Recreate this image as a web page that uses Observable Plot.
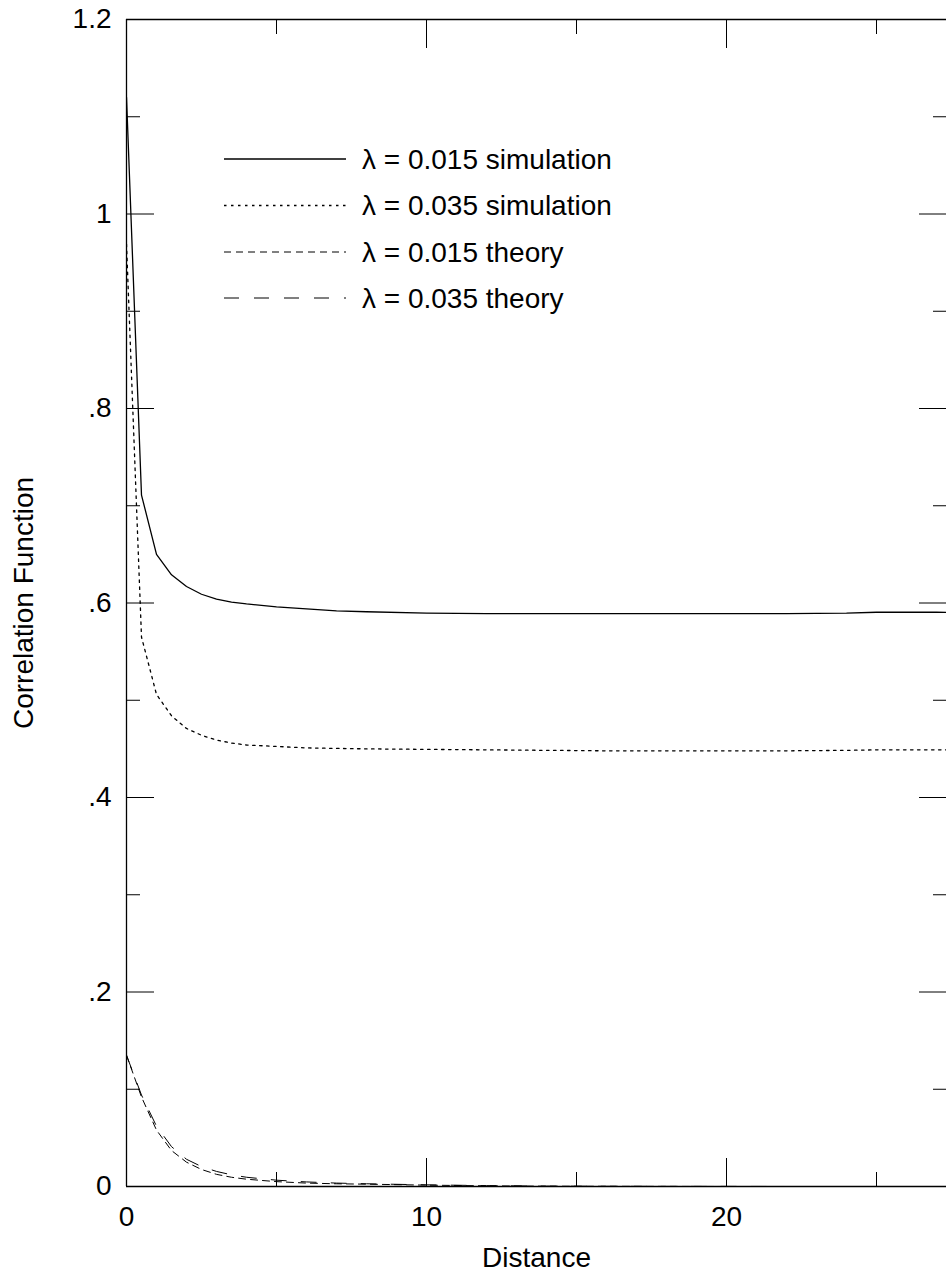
<!DOCTYPE html>
<html><head><meta charset="utf-8">
<script src="https://cdn.jsdelivr.net/npm/d3@7"></script>
<script src="https://cdn.jsdelivr.net/npm/@observablehq/plot@0.6"></script>
<style>html,body{margin:0;padding:0;background:#fff}</style>
</head><body><div id="chart"></div>
<script>
// ---- data ----
const distance = [0, 0.5, 1, 1.5, 2, 2.5, 3, 3.5, 4, 5, 6, 7, 8, 10, 12, 14, 16, 18, 20, 22, 24, 25, 26, 27, 28];
const sim015 = [1.12, 0.711, 0.650, 0.629, 0.617, 0.609, 0.604, 0.601, 0.599, 0.596, 0.594, 0.592, 0.591, 0.5895, 0.589, 0.589, 0.589, 0.589, 0.589, 0.589, 0.5895, 0.5905, 0.5905, 0.5905, 0.5903];
const sim035 = [0.969, 0.565, 0.506, 0.484, 0.471, 0.464, 0.459, 0.456, 0.454, 0.4525, 0.451, 0.4505, 0.450, 0.4495, 0.449, 0.4485, 0.448, 0.448, 0.448, 0.448, 0.4485, 0.449, 0.449, 0.449, 0.449];
const th015 = [0.135, 0.092, 0.058, 0.037, 0.025, 0.0175, 0.0125, 0.0095, 0.0075, 0.005, 0.0035, 0.0028, 0.0024, 0.0014, 0.0007, 0.0003, 0.0002, 0.0001, 0, 0, 0, 0, 0, 0, 0];
const th035 = [0.135, 0.094, 0.062, 0.041, 0.028, 0.0205, 0.0155, 0.012, 0.0095, 0.0065, 0.0047, 0.0035, 0.0028, 0.0017, 0.0009, 0.0004, 0.0002, 0.0001, 0.0001, 0, 0, 0, 0, 0, 0];

const seriesNames = ["λ = 0.015 simulation", "λ = 0.035 simulation", "λ = 0.015 theory", "λ = 0.035 theory"];
const seriesValues = [sim015, sim035, th015, th035];
const seriesDash = [null, "2.5,4.5", "7,5", "15,15"];
const seriesWidth = [1.3, 1.3, 1, 1];

const yMajor = [0, 0.2, 0.4, 0.6, 0.8, 1, 1.2];
const yTickLabels = ["0", ".2", ".4", ".6", ".8", "1", "1.2"];
const yMinor = [0.1, 0.3, 0.5, 0.7, 0.9, 1.1];
const xMajor = [0, 10, 20];
const xTickLabels = ["0", "10", "20"];
const xMinor = [5, 15, 25];
const xTopMajor = [10, 20];
const xLabel = "Distance";
const yLabel = "Correlation Function";

// ---- build table ----
const rows = [];
seriesNames.forEach((name, s) => {
  distance.forEach((d, i) => rows.push({series: name, s, x: d, y: seriesValues[s][i]}));
});

const blank = () => "";
const FONT = "'Liberation Sans', Arial, Helvetica, sans-serif";
const lineMarks = seriesNames.map((name, s) =>
  Plot.line(rows.filter(r => r.s === s), {
    x: "x", y: "y", stroke: "black", strokeWidth: seriesWidth[s],
    strokeDasharray: seriesDash[s] || undefined, clip: true
  })
);

const chart = Plot.plot({
  width: 946, height: 1278,
  marginLeft: 126, marginRight: 0, marginTop: 19, marginBottom: 92,
  x: {domain: [0, 27.333]},
  y: {domain: [0, 1.2]},
  style: {fontFamily: FONT, fontSize: "28px", background: "white", color: "black"},
  marks: [
    ...lineMarks,
    // y axis left
    Plot.axisY({anchor: "left", ticks: yMajor, tickSize: -28, tickPadding: 43, tickFormat: d => yTickLabels[yMajor.indexOf(d)], label: null, fontSize: 28}),
    Plot.axisY({anchor: "left", ticks: yMinor, tickSize: -14, tickFormat: blank, label: null}),
    // y axis right (ticks only)
    Plot.axisY({anchor: "right", ticks: yMajor, tickSize: -28, tickFormat: blank, label: null}),
    Plot.axisY({anchor: "right", ticks: yMinor, tickSize: -14, tickFormat: blank, label: null}),
    // x axis bottom
    Plot.axisX({anchor: "bottom", ticks: xMajor, tickSize: -28, tickPadding: 48, tickFormat: d => xTickLabels[xMajor.indexOf(d)], label: null, fontSize: 28}),
    Plot.axisX({anchor: "bottom", ticks: xMinor, tickSize: -14, tickFormat: blank, label: null}),
    // x axis top (ticks only)
    Plot.axisX({anchor: "top", ticks: xTopMajor, tickSize: -28, tickFormat: blank, label: null}),
    Plot.axisX({anchor: "top", ticks: xMinor, tickSize: -14, tickFormat: blank, label: null}),
    // frame: left, bottom, top
    Plot.ruleX([0], {stroke: "black", strokeWidth: 1.3}),
    Plot.ruleY([0, 1.2], {stroke: "black", strokeWidth: 1.3}),
    // axis titles
    Plot.text([xLabel], {text: d => d, frameAnchor: "bottom", dy: 72, lineAnchor: "middle", textAnchor: "middle", fontSize: 28, fill: "black"}),
    Plot.text([yLabel], {text: d => d, frameAnchor: "left", dx: -102, rotate: -90, lineAnchor: "middle", textAnchor: "middle", fontSize: 28, fill: "black"})
  ]
});

// ---- legend inside the plot area ----
const svg = d3.select(chart);
const lg = svg.append("g").attr("class", "legend");
const rowY = [159, 205.5, 252, 298];
seriesNames.forEach((name, s) => {
  const g = lg.append("g").attr("transform", `translate(0,${rowY[s]})`);
  g.append("line").attr("x1", 224).attr("x2", 346).attr("y1", 0).attr("y2", 0)
    .attr("stroke", "black").attr("stroke-width", seriesWidth[s])
    .attr("stroke-dasharray", seriesDash[s]);
  g.append("text").attr("x", 362).attr("dy", "0.35em")
    .attr("text-anchor", "start")
    .attr("font-size", 28).attr("fill", "black")
    .attr("font-family", FONT)
    .text(name);
});

document.getElementById("chart").appendChild(chart);
</script></body></html>
